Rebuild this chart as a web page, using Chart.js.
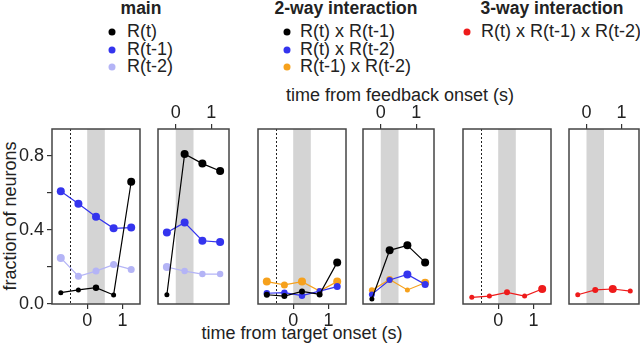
<!DOCTYPE html>
<html>
<head>
<meta charset="utf-8">
<script src="https://cdn.jsdelivr.net/npm/chart.js@4.4.0/dist/chart.umd.min.js"></script>
<style>
body { margin: 0; background: #fff; overflow: hidden; font-family: "Liberation Sans", Arial, sans-serif; color: #222; }
#wrap { position: relative; width: 640px; height: 346px; overflow: hidden; }
.t { position: absolute; white-space: nowrap; line-height: 1; transform: translate(-50%, -50%); font-size: 18px; }
.h { font-weight: bold; font-size: 17.5px; }
.lg { position: absolute; white-space: nowrap; line-height: 1; font-size: 18px; transform: translateY(-50%); }
.dot { position: absolute; width: 7px; height: 7px; border-radius: 50%; transform: translate(-50%, -50%); }
canvas { position: absolute; }
</style>
</head>
<body>
<div id="wrap"></div>
<script>
// time bins (s)
var tTarget = [-0.75, -0.25, 0.25, 0.75, 1.25];
var tFeedback = [-0.25, 0.25, 0.75, 1.25];
var xTicks = [0, 1];
var yTicks = [0, 0.2, 0.4, 0.6, 0.8];
var yLabels = [0, 0.4, 0.8];
var feedbackBand = [0, 0.5];
var targetLine = -0.5;

var groupTitles = ["main", "2-way interaction", "3-way interaction"];
var mainLabels = ["R(t)", "R(t-1)", "R(t-2)"];
var twoWayLabels = ["R(t) x R(t-1)", "R(t) x R(t-2)", "R(t-1) x R(t-2)"];
var threeWayLabels = ["R(t) x R(t-1) x R(t-2)"];

// fraction of neurons, aligned to target onset
var mainTarget = [
    [0.061, 0.076, 0.088, 0.049, 0.661],
    [0.609, 0.542, 0.472, 0.409, 0.413],
    [0.249, 0.150, 0.178, 0.213, 0.187]
];
var twoWayTarget = [
    [0.050, 0.043, 0.068, 0.052, 0.225],
    [0.058, 0.061, 0.045, 0.070, 0.094],
    [0.121, 0.103, 0.121, 0.070, 0.121]
];
var threeWayTarget = [
    [0.036, 0.043, 0.063, 0.043, 0.081]
];

// fraction of neurons, aligned to feedback onset
var mainFeedback = [
    [0.050, 0.811, 0.759, 0.719],
    [0.387, 0.440, 0.342, 0.335],
    [0.200, 0.178, 0.162, 0.162]
];
var twoWayFeedback = [
    [0.027, 0.290, 0.317, 0.225],
    [0.052, 0.130, 0.160, 0.106],
    [0.074, 0.133, 0.076, 0.115]
];
var threeWayFeedback = [
    [0.050, 0.076, 0.081, 0.070]
];

// styles
var FONT = "'Liberation Sans', Arial, sans-serif";
var mainColors = ["#000000", "#3434ee", "#b4b4f6"];
var twoWayColors = ["#000000", "#3434ee", "#f6a11c"];
var threeWayColors = ["#ee1b1b"];

var radii = {
    mainTarget: [[2.5, 2.5, 3.2, 2.5, 4], [4, 4, 4, 4, 4], [4, 3.5, 3.5, 3.5, 3.5]],
    mainFeedback: [[2.5, 4, 4, 4], [4, 4, 4, 4], [4, 3.2, 3.2, 3.2]],
    twoWayTarget: [[3, 3, 3, 3, 4], [3.2, 3.2, 3.2, 3, 3.5], [4, 3.5, 4, 3, 4]],
    twoWayFeedback: [[2.5, 4, 4, 4], [3, 3, 4, 3.5], [3, 3.5, 2.5, 4]],
    threeWayTarget: [[2.5, 2.5, 3, 2.5, 4]],
    threeWayFeedback: [[2.5, 3, 4, 2.5]]
};

var panels = [
    { left: 52, right: 140, kind: "target", yAxis: true, series: mainTarget, colors: mainColors, r: radii.mainTarget },
    { left: 158, right: 229, kind: "feedback", series: mainFeedback, colors: mainColors, r: radii.mainFeedback },
    { left: 258, right: 346, kind: "target", series: twoWayTarget, colors: twoWayColors, r: radii.twoWayTarget },
    { left: 363, right: 434, kind: "feedback", series: twoWayFeedback, colors: twoWayColors, r: radii.twoWayFeedback },
    { left: 463, right: 551, kind: "target", series: threeWayTarget, colors: threeWayColors, r: radii.threeWayTarget },
    { left: 569, right: 639, kind: "feedback", series: threeWayFeedback, colors: threeWayColors, r: radii.threeWayFeedback }
];

var wrap = document.getElementById("wrap");

function addText(cls, text, x, y, extra) {
    var d = document.createElement("div");
    d.className = cls;
    d.textContent = text;
    d.style.left = x + "px";
    d.style.top = y + "px";
    if (extra) d.style.transform = extra;
    wrap.appendChild(d);
    return d;
}

// legend
var legendGroups = [
    { title: groupTitles[0], cx: 141, dotX: 112, textX: 127, labels: mainLabels, colors: mainColors },
    { title: groupTitles[1], cx: 346, dotX: 287, textX: 300, labels: twoWayLabels, colors: twoWayColors },
    { title: groupTitles[2], cx: 552, dotX: 467, textX: 481, labels: threeWayLabels, colors: threeWayColors }
];
legendGroups.forEach(function (g) {
    addText("t h", g.title, g.cx, 9);
    g.labels.forEach(function (lab, i) {
        var y = 31 + i * 17.5;
        var dot = document.createElement("div");
        dot.className = "dot";
        dot.style.left = g.dotX + "px";
        dot.style.top = (y + 1) + "px";
        dot.style.background = g.colors[i];
        wrap.appendChild(dot);
        addText("lg", lab, g.textX, y);
    });
});

// axis titles
addText("t", "time from feedback onset (s)", 400, 95);
addText("t", "time from target onset (s)", 302, 333);
addText("t", "fraction of neurons", 10, 216, "translate(-50%, -50%) rotate(-90deg)");

var panelDeco = {
    id: "panelDeco",
    beforeDatasetsDraw: function (chart, args, opts) {
        var ctx = chart.ctx, a = chart.chartArea, x = chart.scales.x;
        ctx.save();
        var x0 = x.getPixelForValue(feedbackBand[0]);
        var x1 = x.getPixelForValue(feedbackBand[1]);
        ctx.fillStyle = "#d4d4d4";
        ctx.fillRect(x0, a.top, x1 - x0, a.bottom - a.top);
        if (opts.dashed) {
            var xd = Math.round(x.getPixelForValue(targetLine)) + 0.5;
            ctx.strokeStyle = "#222";
            ctx.lineWidth = 1;
            ctx.setLineDash([2, 2]);
            ctx.beginPath();
            ctx.moveTo(xd, a.top);
            ctx.lineTo(xd, a.bottom);
            ctx.stroke();
        }
        ctx.restore();
    },
    afterDraw: function (chart) {
        var ctx = chart.ctx, a = chart.chartArea;
        ctx.save();
        ctx.strokeStyle = "#444";
        ctx.lineWidth = 1.5;
        ctx.strokeRect(a.left, a.top, a.right - a.left, a.bottom - a.top);
        ctx.restore();
    }
};

var CANVAS_TOP = 100, CANVAS_H = 232;

panels.forEach(function (p) {
    var isTarget = p.kind === "target";
    var padL = p.yAxis ? 0 : 10;
    var yW = p.yAxis ? p.left : 0;
    var cLeft = p.yAxis ? 0 : p.left - 10;
    var cW = p.right - cLeft + 10;

    var canvas = document.createElement("canvas");
    canvas.width = cW;
    canvas.height = CANVAS_H;
    canvas.style.left = cLeft + "px";
    canvas.style.top = CANVAS_TOP + "px";
    wrap.appendChild(canvas);

    var xs = isTarget ? tTarget : tFeedback;
    var datasets = p.series.map(function (ys, k) {
        return {
            data: xs.map(function (x, i) { return { x: x, y: ys[i] }; }),
            borderColor: p.colors[k],
            backgroundColor: p.colors[k],
            pointBackgroundColor: p.colors[k],
            pointBorderWidth: 0,
            pointRadius: p.r[k],
            borderWidth: 1.2,
            showLine: true,
            fill: false,
            tension: 0,
            clip: false
        };
    });

    new Chart(canvas.getContext("2d"), {
        type: "scatter",
        data: { datasets: datasets },
        options: {
            responsive: false,
            animation: false,
            events: [],
            layout: { padding: { left: padL, right: 10, top: isTarget ? 29 : 0, bottom: isTarget ? 0 : 28 } },
            plugins: {
                legend: { display: false },
                tooltip: { enabled: false },
                panelDeco: { dashed: isTarget }
            },
            scales: {
                x: {
                    type: "linear",
                    position: isTarget ? "bottom" : "top",
                    min: isTarget ? -1 : -0.5,
                    max: 1.5,
                    afterBuildTicks: function (s) { s.ticks = xTicks.map(function (v) { return { value: v }; }); },
                    afterFit: function (s) { s.height = isTarget ? 28 : 29; },
                    grid: { drawOnChartArea: false, drawTicks: true, tickLength: 5, color: "#333", lineWidth: 1.2 },
                    border: { display: false },
                    ticks: {
                        font: { family: FONT, size: 18 },
                        color: "#222",
                        padding: isTarget ? 1 : 0,
                        maxRotation: 0,
                        autoSkip: false,
                        callback: function (v) { return String(v); }
                    }
                },
                y: {
                    display: !!p.yAxis,
                    min: 0,
                    max: 0.946,
                    afterBuildTicks: function (s) { s.ticks = yTicks.map(function (v) { return { value: v }; }); },
                    afterFit: function (s) { s.width = yW; },
                    grid: { drawOnChartArea: false, drawTicks: true, tickLength: 5, color: "#333", lineWidth: 1.2 },
                    border: { display: false },
                    ticks: {
                        font: { family: FONT, size: 18 },
                        color: "#222",
                        padding: 3,
                        callback: function (v) {
                            var show = yLabels.some(function (l) { return Math.abs(l - v) < 1e-6; });
                            return show ? v.toFixed(1) : "";
                        }
                    }
                }
            }
        },
        plugins: [panelDeco]
    });
});
</script>
</body>
</html>
